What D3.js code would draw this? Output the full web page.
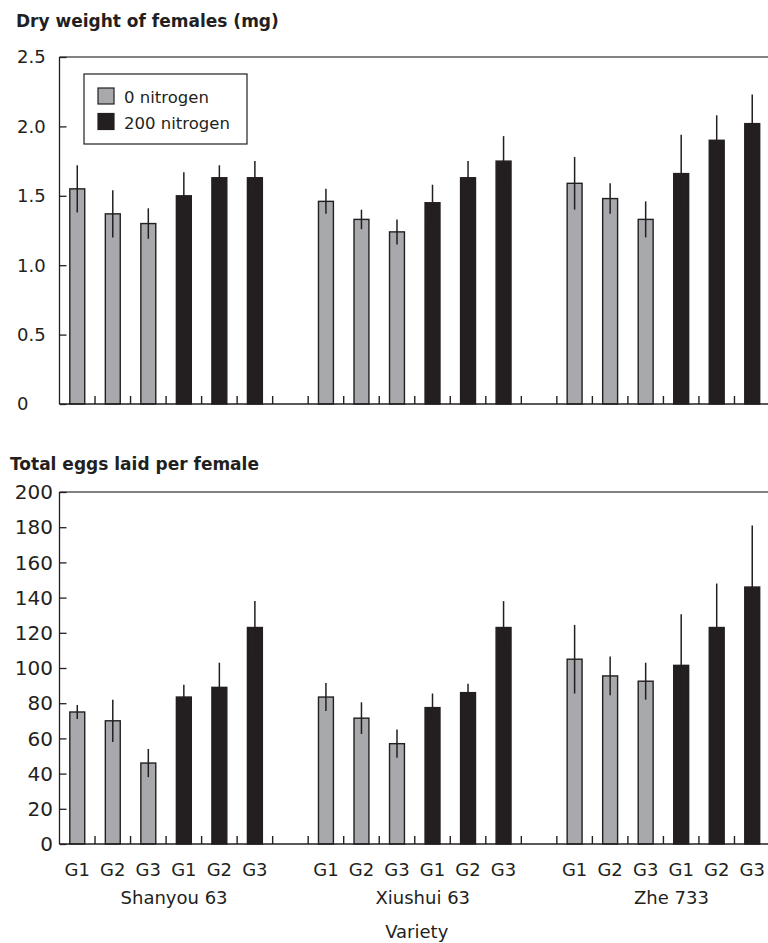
<!DOCTYPE html>
<html>
<head>
<meta charset="utf-8">
<script src="https://cdn.jsdelivr.net/npm/d3@7"></script>
<style>
  body { margin: 0; background: #fff; }
  svg { display: block; font-family: 'DejaVu Sans', sans-serif; }
</style>
</head>
<body>
<div id="chart"></div>
<script>
// data
const varieties = ['Shanyou 63', 'Xiushui 63', 'Zhe 733']
const groups = ['G1', 'G2', 'G3', 'G1', 'G2', 'G3']
const treatments = ['0 nitrogen', '200 nitrogen']
const treatmentOf = [0, 0, 0, 1, 1, 1]

const weightMean = [1.55, 1.37, 1.30, 1.50, 1.63, 1.63,
  1.46, 1.33, 1.24, 1.45, 1.63, 1.75,
  1.59, 1.48, 1.33, 1.66, 1.90, 2.02]
const weightErr = [0.17, 0.17, 0.11, 0.17, 0.09, 0.12,
  0.09, 0.07, 0.09, 0.13, 0.12, 0.18,
  0.19, 0.11, 0.13, 0.28, 0.18, 0.21]

const eggsMean = [75, 70, 46, 83.5, 89, 123,
  83.5, 71.5, 57, 77.5, 86, 123,
  105, 95.5, 92.5, 101.5, 123, 146]
const eggsErr = [4, 12, 8, 7, 14, 15,
  8, 9, 8, 8, 5, 15,
  19.5, 11, 10.5, 29, 25, 35]

const weightTicks = [0, 0.5, 1.0, 1.5, 2.0, 2.5]
const eggsTicks = [0, 20, 40, 60, 80, 100, 120, 140, 160, 180, 200]

const colors = ['#a7a9ac', '#231f20']
const ink = '#231f20'

const width = 768
const height = 943

const svg = d3.select('#chart').append('svg')
  .attr('width', width)
  .attr('height', height)

// 20 slots: 6 bars, 1 gap, 6 bars, 1 gap, 6 bars
const slotOf = (i) => Math.floor(i / 6) * 7 + (i % 6)
const x = d3.scaleBand()
  .domain(d3.range(20))
  .range([59.5, 770])
  .paddingInner(0.58)
  .paddingOuter(0.29)
const gapHalf = x.step() * x.paddingInner() / 2
const boundaries = d3.range(1, 20).map(k => x(k) - gapHalf)

function panel (opts) {
  const y = d3.scaleLinear().domain(opts.domain).range([opts.bottom, opts.top])
  const g = svg.append('g')

  // title
  svg.append('text')
    .attr('x', opts.titleX)
    .attr('y', opts.titleY)
    .style('font-weight', 'bold')
    .style('font-size', '17px')
    .attr('fill', ink)
    .text(opts.title)

  // frame top line
  g.append('line')
    .attr('x1', x.range()[0]).attr('x2', width)
    .attr('y1', y(opts.domain[1])).attr('y2', y(opts.domain[1]))
    .attr('stroke', '#58595b').attr('stroke-width', 1.3)

  // bars
  const data = opts.mean.map((m, i) => ({ m, e: opts.err[i], i }))
  g.selectAll('rect.bar')
    .data(data)
    .enter().append('rect')
    .attr('class', 'bar')
    .attr('x', d => x(slotOf(d.i)))
    .attr('width', x.bandwidth())
    .attr('y', d => y(d.m))
    .attr('height', d => y(0) - y(d.m))
    .attr('fill', d => colors[treatmentOf[d.i % 6]])
    .attr('stroke', ink)
    .attr('stroke-width', 1.4)

  // error bars
  g.selectAll('line.err')
    .data(data)
    .enter().append('line')
    .attr('class', 'err')
    .attr('x1', d => x(slotOf(d.i)) + x.bandwidth() / 2)
    .attr('x2', d => x(slotOf(d.i)) + x.bandwidth() / 2)
    .attr('y1', d => y(d.m + d.e))
    .attr('y2', d => y(d.m - d.e))
    .attr('stroke', ink)
    .attr('stroke-width', 1.5)

  // y axis with inward ticks
  const yAxis = d3.axisRight(y)
    .tickValues(opts.ticks)
    .tickSize(7)
    .tickFormat('')
  const ya = g.append('g')
    .attr('transform', 'translate(' + x.range()[0] + ',0)')
    .call(yAxis)
  ya.select('.domain').remove()
  ya.selectAll('line').attr('stroke', ink).attr('stroke-width', 1.3)
  g.append('line')
    .attr('x1', x.range()[0]).attr('x2', x.range()[0])
    .attr('y1', y(opts.domain[0])).attr('y2', y(opts.domain[1]))
    .attr('stroke', ink).attr('stroke-width', 1.3)

  g.selectAll('text.ylab')
    .data(opts.ticks)
    .enter().append('text')
    .attr('class', 'ylab')
    .attr('x', opts.labelX)
    .attr('y', d => y(d))
    .attr('dy', '0.36em')
    .attr('text-anchor', opts.labelAnchor)
    .style('font-size', opts.labelSize)
    .attr('fill', ink)
    .text(opts.format)

  // x baseline and inner ticks at slot boundaries
  g.append('line')
    .attr('x1', x.range()[0]).attr('x2', width)
    .attr('y1', y(0)).attr('y2', y(0))
    .attr('stroke', ink).attr('stroke-width', 1.5)
  g.selectAll('line.xtick')
    .data(boundaries)
    .enter().append('line')
    .attr('class', 'xtick')
    .attr('x1', d => d).attr('x2', d => d)
    .attr('y1', y(0)).attr('y2', y(0) - 8)
    .attr('stroke', ink).attr('stroke-width', 1.4)

  return y
}

panel({
  title: 'Dry weight of females (mg)',
  titleX: 16,
  titleY: 27,
  domain: [0, 2.5],
  top: 57,
  bottom: 404,
  mean: weightMean,
  err: weightErr,
  ticks: weightTicks,
  labelX: 17,
  labelAnchor: 'start',
  labelSize: '18px',
  format: d => d === 0 ? '0' : d3.format('.1f')(d)
})

const yEggs = panel({
  title: 'Total eggs laid per female',
  titleX: 10,
  titleY: 470,
  domain: [0, 200],
  top: 492,
  bottom: 844,
  mean: eggsMean,
  err: eggsErr,
  ticks: eggsTicks,
  labelX: 53,
  labelAnchor: 'end',
  labelSize: '20px',
  format: d => String(d)
})

// x labels under bottom panel
svg.selectAll('text.glab')
  .data(d3.range(18))
  .enter().append('text')
  .attr('class', 'glab')
  .attr('x', i => x(slotOf(i)) + x.bandwidth() / 2)
  .attr('y', yEggs(0) + 32)
  .attr('text-anchor', 'middle')
  .style('font-size', '18px')
  .attr('fill', ink)
  .text(i => groups[i % 6])

svg.selectAll('text.vlab')
  .data(varieties)
  .enter().append('text')
  .attr('class', 'vlab')
  .attr('x', (d, v) => (x(v * 7) + x(v * 7 + 5) + x.bandwidth()) / 2 + 8)
  .attr('y', yEggs(0) + 60)
  .attr('text-anchor', 'middle')
  .style('font-size', '18px')
  .attr('fill', ink)
  .text(d => d)

svg.append('text')
  .attr('x', (x.range()[0] + x.range()[1]) / 2 + 2)
  .attr('y', yEggs(0) + 94)
  .attr('text-anchor', 'middle')
  .style('font-size', '18px')
  .attr('fill', ink)
  .text('Variety')

// legend
const legend = svg.append('g').attr('transform', 'translate(84,74)')
legend.append('rect')
  .attr('width', 163).attr('height', 70)
  .attr('fill', '#fff')
  .attr('stroke', ink).attr('stroke-width', 1.2)
const item = legend.selectAll('g.item')
  .data(treatments)
  .enter().append('g')
  .attr('class', 'item')
  .attr('transform', (d, i) => 'translate(14,' + (14 + i * 25.5) + ')')
item.append('rect')
  .attr('width', 16).attr('height', 16)
  .attr('fill', (d, i) => colors[i])
  .attr('stroke', ink).attr('stroke-width', 1.2)
item.append('text')
  .attr('x', 26)
  .attr('y', 15)
  .style('font-size', '16.5px')
  .attr('fill', ink)
  .text(d => d)
</script>
</body>
</html>
